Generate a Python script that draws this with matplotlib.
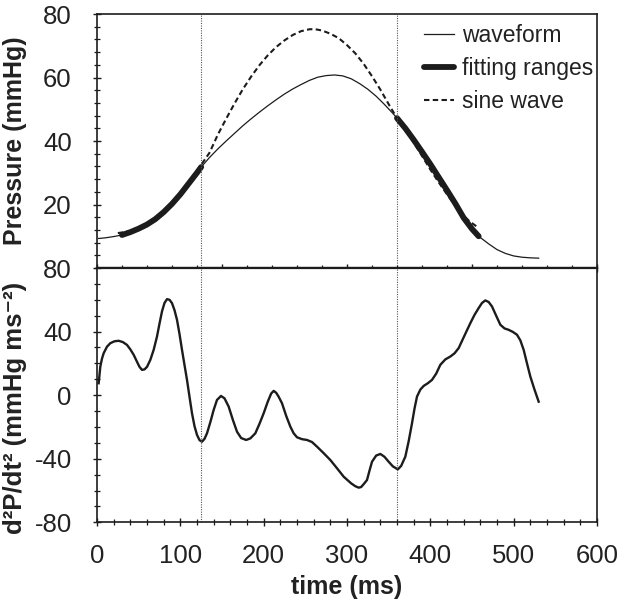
import matplotlib
matplotlib.use("Agg")
import matplotlib.pyplot as plt
from matplotlib.ticker import MultipleLocator, FixedLocator
import numpy as np

plt.rcParams['font.family'] = ['Liberation Sans', 'DejaVu Sans']
plt.rcParams['axes.unicode_minus'] = False

# ---- data ----
wave_t = [2, 10, 20, 30, 40, 50, 60, 70, 80, 90, 100, 110, 120, 125, 135, 145,
          155, 165, 175, 185, 195, 205, 215, 225, 235, 245, 255, 265, 275, 285,
          295, 305, 315, 325, 335, 345, 355, 360, 370, 380, 390, 400, 410, 420,
          430, 440, 450, 458, 470, 480, 490, 500, 510, 520, 530]
wave_p = [9.3, 9.5, 9.9, 10.4, 11.3, 12.4, 13.7, 15.4, 17.6, 20.2, 23.2, 26.6,
          30.0, 31.8, 34.8, 37.5, 40.0, 42.4, 44.8, 47.0, 49.1, 51.1, 53.0, 54.8,
          56.4, 57.8, 59.1, 60.1, 60.6, 60.8, 60.5, 59.6, 58.1, 56.3, 54.1, 51.5,
          48.7, 47.2, 44.0, 40.4, 36.6, 32.7, 28.6, 24.5, 20.3, 15.8, 12.3, 10.0,
          7.6, 5.8, 4.6, 3.8, 3.4, 3.2, 3.1]

sine_t = [25, 40, 55, 70, 85, 100, 115, 125, 135, 145, 155, 165, 175, 185, 195,
          205, 215, 225, 235, 245, 255, 262, 270, 280, 290, 300, 310, 320, 330,
          340, 350, 360, 370, 380, 390, 400, 410, 420, 430, 440, 448, 456]
sine_p = [11.0, 11.6, 12.6, 14.9, 18.5, 23.2, 28.6, 32.5, 36.3, 42.0, 47.0, 51.8,
          56.3, 60.3, 63.9, 67.0, 69.6, 71.7, 73.4, 74.6, 75.2, 75.2, 74.8, 73.8,
          72.4, 70.2, 67.6, 64.3, 60.4, 56.2, 51.6, 47.2, 43.5, 39.5, 35.3, 31.0,
          27.0, 23.2, 19.6, 16.4, 14.5, 13.0]

fit_start = [25, 360]
fit_end = [125, 458]

d2_t = [2, 4, 6, 8, 12, 16, 21, 26, 31, 36, 40, 44, 48, 51, 54, 57, 60, 64, 68,
        72, 75, 78, 81, 84, 87, 90, 93, 96, 99, 102, 105, 108, 111, 114, 117,
        120, 123, 126, 129, 132, 136, 140, 144, 148.8, 153, 158, 163, 168, 173,
        179, 184, 190, 195, 200, 205, 209, 212, 215, 218, 222, 227, 232, 236,
        240, 246, 252, 258, 264, 272, 280, 288, 296, 305, 310, 314, 317, 320,
        324, 327, 330, 335, 340, 345, 350, 355, 361, 365, 370, 374, 378, 381,
        384, 388, 392, 397, 402, 407, 412, 418, 424, 429, 434, 441, 448, 453,
        458, 462, 466, 470, 474, 479, 484, 489, 494, 499, 504, 508, 512, 516,
        520, 525, 530]
d2_v = [7.5, 18, 23, 26.4, 30.5, 32.7, 33.9, 34.2, 33.4, 31.6, 28.8, 25.4, 21.0,
        17.8, 15.9, 16.2, 17.8, 22.2, 28.5, 36.9, 45.0, 52.7, 58.0, 60.4, 60.0,
        57.9, 53.5, 47.4, 38.5, 28.5, 19.0, 9.6, -1.0, -11.4, -19.5, -25.0,
        -28.3, -29.3, -27.5, -24.0, -17.0, -9.3, -3.0, -0.5, -2.0, -7.2, -15.5,
        -23.0, -27.0, -28.2, -27.2, -24.0, -18.0, -11.4, -4.0, 1.0, 2.7, 1.5,
        -1.0, -5.1, -13.0, -19.8, -24.0, -26.5, -27.7, -28.2, -29.5, -32.4,
        -36.5, -40.8, -46.0, -51.3, -55.5, -57.3, -58.2, -57.8, -56.0, -53.4,
        -47.5, -41.9, -38.0, -37.0, -38.8, -41.9, -44.8, -46.7, -44.5, -38.7,
        -29.0, -17.7, -8.5, -0.9, 3.5, 5.8, 7.5, 9.6, 13.5, 19.1, 22.5, 24.3,
        26.3, 29.6, 37.5, 45.3, 50.5, 54.8, 58.0, 59.6, 58.6, 55.8, 50.0, 44.3,
        42.0, 41.1, 39.8, 38.0, 34.5, 28.5, 20.0, 11.7, 3.5, -4.1]

x_ticks_labels = [0, 100, 200, 300, 400, 500, 600]

# ---- figure ----
ink = '#1c1c1c'
txt = '#222222'
fig = plt.figure(figsize=(6.2, 6.04), dpi=100)
ax1 = fig.add_axes([0.15645, 0.55629, 0.80645, 0.42053])
ax2 = fig.add_axes([0.15645, 0.13526, 0.80645, 0.42103])

wt = np.array(wave_t, float)
wp = np.array(wave_p, float)

ax1.plot(wt, wp, color=ink, lw=0.9, label='waveform')
for k, (s, e) in enumerate(zip(fit_start, fit_end)):
    m = (wt >= s) & (wt <= e)
    ax1.plot(wt[m], wp[m], color=ink, lw=4.2, solid_capstyle='round',
             label='fitting ranges' if k == 0 else None)
ax1.plot(sine_t, sine_p, color=ink, lw=1.5, dashes=(2.6, 1.6), label='sine wave')

ax2.plot(d2_t, d2_v, color=ink, lw=1.7, solid_joinstyle='round')

for ax in (ax1, ax2):
    for xv in (fit_end[0], fit_start[1]):
        ax.axvline(xv, color='#555555', lw=0.8, ls=(0, (1, 1.2)))
    ax.set_xlim(0, 600)
    for sp in ax.spines.values():
        sp.set_color(ink)
        sp.set_linewidth(1.2)
    ax.tick_params(which='both', direction='inout', colors=ink,
                   labelsize=18.5, labelcolor=txt)
    ax.tick_params(which='major', length=5.5, width=1.0)
    ax.tick_params(which='minor', length=4, width=0.9)
    ax.tick_params(axis='y', which='major', pad=15.5)
    ax.tick_params(axis='x', which='major', pad=13)

ax1.spines['bottom'].set_linewidth(1.6)
ax2.spines['top'].set_linewidth(1.6)

ax1.set_ylim(0, 80)
ax1.yaxis.set_major_locator(FixedLocator([20, 40, 60, 80]))
ax1.yaxis.set_minor_locator(MultipleLocator(4))
ax1.xaxis.set_major_locator(MultipleLocator(150))
ax1.xaxis.set_minor_locator(MultipleLocator(30))
ax1.tick_params(axis='x', labelbottom=False)

ax2.set_ylim(-80, 80)
ax2.yaxis.set_major_locator(MultipleLocator(40))
ax2.yaxis.set_minor_locator(MultipleLocator(10))
ax2.xaxis.set_major_locator(FixedLocator(x_ticks_labels))
ax2.xaxis.set_minor_locator(MultipleLocator(20))

ax2.set_xlabel('time (ms)', fontsize=18, fontweight='bold', color=txt,
               labelpad=5)

fig.text(15 / 620, 1 - 141 / 604, 'Pressure (mmHg)', rotation=90, ha='center',
         va='center', fontsize=18, fontweight='bold', color=txt)
fig.text(15 / 620, 1 - 408 / 604, 'd²P/dt² (mmHg ms⁻²)', rotation=90,
         ha='center', va='center', fontsize=18.5, fontweight='bold', color=txt)

leg = ax1.legend(loc='upper right', bbox_to_anchor=(1.0, 0.975), frameon=False,
                 fontsize=16.5, handlelength=1.3, handletextpad=0.35,
                 labelspacing=0.45, borderaxespad=0.05, borderpad=0.1)
for t in leg.get_texts():
    t.set_color(txt)

fig.savefig('out.png', dpi=100)
